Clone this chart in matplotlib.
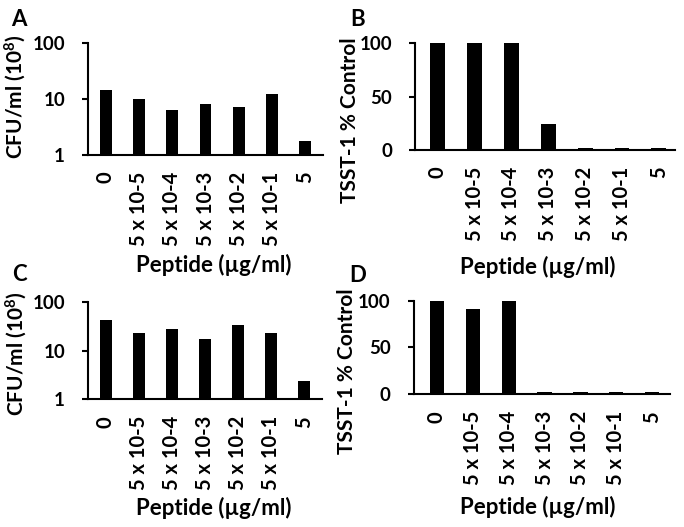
import numpy as np
import matplotlib
matplotlib.use('Agg')
import matplotlib.pyplot as plt

plt.rcParams['font.family'] = ['Lato', 'DejaVu Sans']
plt.rcParams['font.weight'] = 'bold'
plt.rcParams['mathtext.fontset'] = 'custom'
plt.rcParams['mathtext.rm'] = 'Lato:bold'
plt.rcParams['mathtext.it'] = 'Lato:bold'
plt.rcParams['mathtext.bf'] = 'Lato:bold'

# data
doses = ['0', '5 x 10-5', '5 x 10-4', '5 x 10-3', '5 x 10-2', '5 x 10-1', '5']
cfuA = [14.2, 10.2, 6.4, 8.2, 7.3, 12.2, 1.8]
tsstB = [100, 100, 100, 24.4, 2, 2, 2]
cfuC = [42, 23, 27.6, 17.2, 33, 23, 2.4]
tsstD = [100, 91.5, 100, 2, 2, 2, 2]

xlab = 'Peptide (\u00b5g/ml)'
cfuLab = r'CFU/ml (10$^{8}$)'
tsstLab = 'TSST-1 % Control'

W, H = 684.0, 527.0
ylabSize = 15
xlabSize = 16

def pixAxes(fig, x0, x1, ytop, ybot):
    return fig.add_axes([x0/W, 1 - ybot/H, (x1 - x0)/W, (ybot - ytop)/H])

def style(ax, xlim):
    x = np.arange(len(doses))
    ax.set_xlim(*xlim)
    for s in ['top', 'right']:
        ax.spines[s].set_visible(False)
    for s in ['left', 'bottom']:
        ax.spines[s].set_linewidth(1.5)
    ax.set_xticks(x)
    ax.set_xticklabels(doses, rotation=90, fontsize=14.5, fontweight='bold')
    ax.tick_params(axis='x', length=0, pad=12)
    ax.tick_params(axis='y', length=4.5, width=1.5, pad=12, labelsize=13.5)
    ax.tick_params(axis='y', which='minor', length=0)

fig = plt.figure(figsize=(6.84, 5.27), dpi=100)
x = np.arange(len(doses))

# A
ax = pixAxes(fig, 88, 323, 43, 155)
ax.bar(x, cfuA, width=0.36, color='black')
ax.set_yscale('log')
ax.set_ylim(1, 100)
ax.set_yticks([1, 10, 100])
ax.set_yticklabels(['1', '10', '100'])
style(ax, (-0.54, 6.54))
ax.set_ylabel(cfuLab, fontsize=ylabSize, fontweight='bold')
ax.yaxis.set_label_coords(-0.255, 0.52)
ax.set_xlabel(xlab, fontsize=xlabSize, fontweight='bold')
ax.xaxis.set_label_coords(0.536, -0.884)

# B
ax = pixAxes(fig, 415, 675, 43, 150)
ax.bar(x, tsstB, width=0.4, color='black')
ax.set_ylim(0, 100)
ax.set_yticks([0, 50, 100])
style(ax, (-0.62, 6.44))
ax.set_ylabel(tsstLab, fontsize=ylabSize, fontweight='bold')
ax.yaxis.set_label_coords(-0.21, 0.28)
ax.set_xlabel(xlab, fontsize=xlabSize, fontweight='bold')
ax.xaxis.set_label_coords(0.473, -0.99)

# C
ax = pixAxes(fig, 88, 322, 301.7, 399.3)
ax.bar(x, cfuC, width=0.36, color='black')
ax.set_yscale('log')
ax.set_ylim(1, 100)
ax.set_yticks([1, 10, 100])
ax.set_yticklabels(['1', '10', '100'])
style(ax, (-0.54, 6.54))
ax.set_ylabel(cfuLab, fontsize=ylabSize, fontweight='bold')
ax.yaxis.set_label_coords(-0.252, 0.47)
ax.set_xlabel(xlab, fontsize=xlabSize, fontweight='bold')
ax.xaxis.set_label_coords(0.538, -1.0)

# D
ax = pixAxes(fig, 413.7, 670, 300.7, 394.3)
ax.bar(x, tsstD, width=0.4, color='black')
ax.set_ylim(0, 100)
ax.set_yticks([0, 50, 100])
style(ax, (-0.65, 6.5))
ax.set_ylabel(tsstLab, fontsize=ylabSize, fontweight='bold')
ax.yaxis.set_label_coords(-0.222, 0.25)
ax.set_xlabel(xlab, fontsize=xlabSize, fontweight='bold')
ax.xaxis.set_label_coords(0.485, -1.087)

# panel letters
for lab, px, py in [('A', 11, 9), ('B', 350, 9), ('C', 12, 264), ('D', 349, 265)]:
    fig.text(px/W, 1 - py/H, lab, fontsize=16, fontweight='bold', va='top', ha='left')

fig.savefig('out.png', dpi=100)
